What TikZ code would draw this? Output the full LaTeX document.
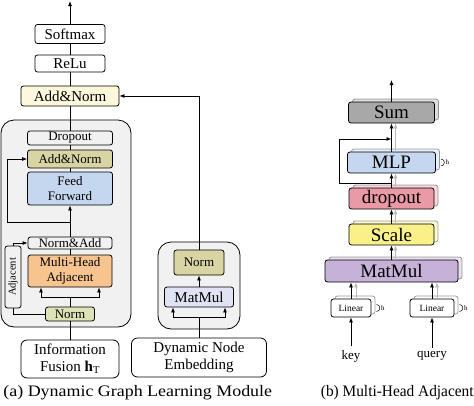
\documentclass[tikz,border=0pt]{standalone}
\usepackage{fontspec}
\usepackage{graphicx}
\setmainfont{Liberation Serif}
\usetikzlibrary{arrows.meta,shadows}

\definecolor{grpgray}{HTML}{F1F1F1}
\definecolor{addcol}{HTML}{FCF8DC}
\definecolor{khaki}{HTML}{D8D4A3}
\definecolor{ffblue}{HTML}{C5D6EF}
\definecolor{mhaorg}{HTML}{F7C48F}
\definecolor{normgrn}{HTML}{DDE3B5}
\definecolor{mmlav}{HTML}{DFE3F4}
\definecolor{sumgray}{HTML}{A8A8A8}
\definecolor{droppink}{HTML}{EA9AA6}
\definecolor{scaleyel}{HTML}{F9F08A}
\definecolor{mmpur}{HTML}{C6B1D8}

\begin{document}
\begin{tikzpicture}[x=1pt,y=-1pt,>={Latex[length=5pt,width=4pt]},line width=.8pt,
    blk/.style={draw,rounded corners=2.5pt,inner sep=1pt,align=center},
    grp/.style={draw,fill=grpgray,rounded corners=13pt},
    stk/.style={copy shadow={shadow xshift=4pt,shadow yshift=3pt,opacity=.38}},
    fa/.style={font=\fontsize{15}{16.5}\selectfont},
    fb/.style={font=\fontsize{13}{14.5}\selectfont},
    fc/.style={font=\fontsize{19}{20}\selectfont},
    captxt/.style={font=\fontsize{16}{18}\selectfont,inner sep=0pt}]

      \useasboundingbox (0,0) rectangle (474,405);

      \node[grp,minimum width=130,minimum height=207] (dgl) at (66,223.5) {};
      \node[grp,minimum width=82,minimum height=87] (emb) at (199,285.5) {};

      \begin{scope}[every node/.style={blk}]
        \node[fa,minimum width=70,minimum height=19] (softmax) at (70,34) {Softmax};
        \node[fa,minimum width=70,minimum height=17] (relu) at (70,63.5) {ReLu};
        \node[fa,fill=addcol,minimum width=98,minimum height=20] (addnorm) at (70,96) {Add\&Norm};
        \node[fb,minimum width=85,minimum height=14] (dropout) at (70,138) {Dropout};
        \node[fb,fill=khaki,minimum width=85,minimum height=18] (addnormin) at (70,159) {Add\&Norm};
        \node[fb,fill=ffblue,minimum width=85,minimum height=33] (ff) at (70,188.5) {Feed\\Forward};
        \node[fb,minimum width=84,minimum height=12] (normadd) at (70,243) {Norm\&Add};
        \node[fb,fill=mhaorg,minimum width=84,minimum height=32] (mha) at (70,271) {Multi-Head\\Adjacent};
        \node[font=\fontsize{10.5}{12}\selectfont,rotate=90,minimum width=62,minimum height=16] (adj) at (13,277) {Adjacent};
        \node[fb,fill=normgrn,minimum width=49,minimum height=14] (norml) at (70,314) {Norm};
        \node[fa,minimum width=98,minimum height=38,rounded corners=6pt] (info) at (70,359) {Information\\Fusion \textbf{h}\textsubscript{T}};

        \node[fb,fill=khaki,minimum width=50,minimum height=25] (normm) at (199,262.5) {Norm};
        \node[fa,fill=mmlav,minimum width=69,minimum height=20] (matmulm) at (199,297) {MatMul};
        \node[fa,minimum width=135,minimum height=39,rounded corners=6pt] (dne) at (199,357.5) {Dynamic Node\\Embedding};
      \end{scope}

      \begin{scope}[every node/.style={blk,stk,fc}]
        \node[fill=sumgray,minimum width=86,minimum height=21] (sum) at (391.5,112.5) {Sum};
        \node[fill=ffblue,minimum width=88,minimum height=21] (mlp) at (391.5,162.5) {MLP};
        \node[fill=droppink,minimum width=85,minimum height=21] (drop) at (391.5,198.5) {dropout};
        \node[fill=scaleyel,minimum width=85,minimum height=21] (scale) at (391.5,234.5) {Scale};
        \node[fill=mmpur,minimum width=133,minimum height=22] (matmulr) at (391.5,271) {MatMul};
        \node[fill=white,font=\fontsize{9.5}{11}\selectfont,minimum width=40,minimum height=18] (lineark) at (351,308) {Linear};
        \node[fill=white,font=\fontsize{9.5}{11}\selectfont,minimum width=44,minimum height=18] (linearq) at (432,308) {Linear};
      \end{scope}

      \node[fb] (key) at (351,356) {key};
      \node[fb] (query) at (432,356) {query};

      \node[captxt,anchor=west] (capa) at (3,393) {\scalebox{1.12}[1]{(a) Dynamic Graph Learning Module}};
      \node[captxt,anchor=east] (capb) at (474,393) {\scalebox{.96}[1]{(b) Multi-Head Adjacent}};

      \coordinate (topa) at (70,1);
      \coordinate (rs) at (70,222);
      \coordinate (fk) at (70,297);
      \coordinate (fm) at (199,317);
      \coordinate (topb) at (391.5,80);
      \coordinate (rr) at (391.5,183);
      \coordinate (rt) at (391.5,139);

      \draw[->] (softmax) -- (topa);
      \draw (addnorm) -- (relu) (relu) -- (softmax);
      \draw (addnormin) -- (dropout) (dropout) -- (addnorm);
      \draw (ff) -- (addnormin);
      \draw[->] (normadd) -- (ff);
      \draw (mha) -- (normadd);
      \draw[->] (rs) -- (7,222) |- (addnormin);
      \draw[->] (adj) |- (normadd);
      \draw (norml) -| (adj);
      \draw (info) -- (norml);
      \draw (norml) -- (fk);
      \draw[->] (fk) -| ([xshift=-29pt]mha.south);
      \draw[->] (fk) -| ([xshift=29pt]mha.south);

      \draw (dne) -- (fm);
      \draw[->] (fm) -| ([xshift=-26pt]matmulm.south);
      \draw[->] (fm) -| ([xshift=26pt]matmulm.south);
      \draw[->] (matmulm) -- (normm);
      \draw[->] (normm) |- (addnorm);

      \draw[->] (sum) -- (topb);
      \draw[->] (mlp) -- (sum);
      \draw[->] (drop) -- (mlp);
      \draw[->] (scale) -- (drop);
      \draw[->] (matmulr) -- (scale);
      \draw[->] (rr) -- (339,183) |- (rt);
      \draw[->] (lineark.north) -- (lineark.north |- matmulr.south);
      \draw[->] (linearq.north) -- (linearq.north |- matmulr.south);
      \draw[->] (key) -- (lineark);
      \draw[->] (query) -- (linearq);

      \begin{scope}[gray!55]
        \draw[->] ([xshift=4pt]mlp.north) -- ([xshift=4pt]sum.south);
        \draw[->] ([xshift=4pt]drop.north) -- ([xshift=4pt]mlp.south);
        \draw[->] ([xshift=4pt]scale.north) -- ([xshift=4pt]drop.south);
        \draw[->] ([xshift=4pt]matmulr.north) -- ([xshift=4pt]scale.south);
        \draw[->] ([xshift=5pt]lineark.north) -- ([xshift=5pt]lineark.north |- matmulr.south);
        \draw[->] ([xshift=5pt]linearq.north) -- ([xshift=5pt]linearq.north |- matmulr.south);
      \end{scope}

      \foreach \n in {mlp,lineark,linearq}
        \draw[line width=.5pt] ([xshift=5pt,yshift=3.5pt]\n.east) arc[start angle=90,end angle=-90,radius=3.5pt]
          node[pos=.5,right,inner sep=1pt,font=\fontsize{7}{8}\selectfont] {h};

    \end{tikzpicture}
\end{document}
